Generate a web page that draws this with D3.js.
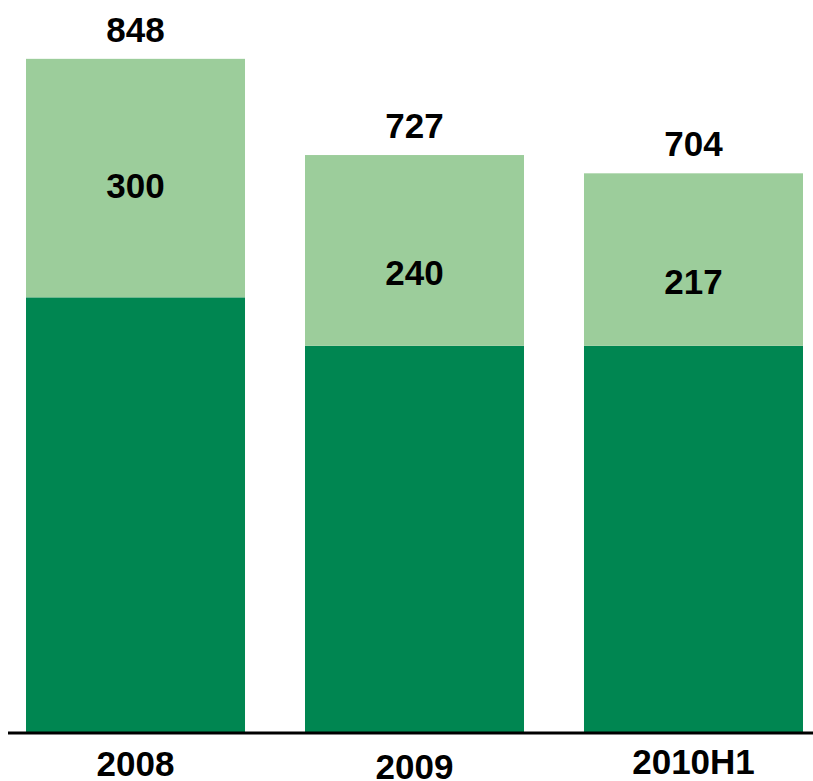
<!DOCTYPE html>
<html><head><meta charset="utf-8">
<script src="https://cdn.jsdelivr.net/npm/d3@7"></script>
<style>body{margin:0;background:#fff}text{font-family:"Liberation Sans",Arial,sans-serif;font-weight:bold;fill:#000}</style>
</head><body>
<svg id="c" width="813" height="781"></svg>
<script>
const categories = ["2008", "2009", "2010H1"];
const baseValues = [548, 487, 487];
const topValues = [300, 240, 217];
const totals = [848, 727, 704];

const svg = d3.select("#c");
const baseY = 733;
const x = d3.scaleBand().domain(categories).range([26, 803]).paddingInner(0.215).paddingOuter(0);
const y = d3.scaleLinear().domain([0, 848]).range([baseY, baseY - 848 * 0.795]);
const bw = x.bandwidth();
const innerDy = [20, 35, 34];
const catDy = [0, 3, -2];

const g = svg.append("g");
categories.forEach((c, i) => {
  const x0 = x(c);
  g.append("rect").attr("x", x0).attr("width", bw)
    .attr("y", y(baseValues[i])).attr("height", baseY - y(baseValues[i])).attr("fill", "#008651");
  g.append("rect").attr("x", x0).attr("width", bw)
    .attr("y", y(totals[i])).attr("height", y(baseValues[i]) - y(totals[i])).attr("fill", "#9ccd9b");
  g.append("text").attr("x", x0 + bw / 2).attr("y", y(totals[i]) - 17)
    .attr("text-anchor", "middle").attr("font-size", 35).text(totals[i]);
  g.append("text").attr("x", x0 + bw / 2).attr("y", (y(totals[i]) + y(baseValues[i])) / 2 + innerDy[i])
    .attr("text-anchor", "middle").attr("font-size", 35).text(topValues[i]);
});

const axis = d3.axisBottom(x).tickSize(0).tickPadding(0);
const ax = svg.append("g").attr("transform", `translate(0,${baseY})`).call(axis);
ax.select(".domain").attr("d", "M8,0H813").attr("stroke", "#000").attr("stroke-width", 3);
ax.selectAll(".tick text")
  .attr("y", (d, i) => 43 + catDy[i]).attr("dy", 0)
  .attr("font-size", 35).attr("fill", "#000")
  .style("font-family", "Liberation Sans, Arial, sans-serif").style("font-weight", "bold");
</script>
</body></html>
